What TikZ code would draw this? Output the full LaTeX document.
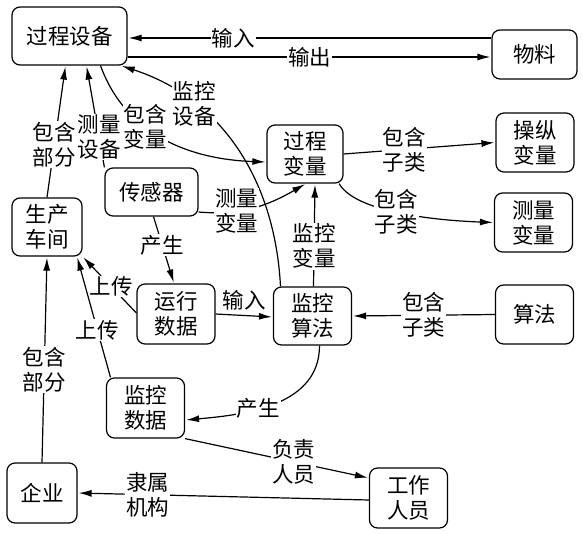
\documentclass[tikz,border=0pt]{standalone}
\usepackage{fontspec}
\newfontfamily\cjk{Noto Sans CJK SC}
\usetikzlibrary{arrows.meta}

\begin{document}
\begin{tikzpicture}[-{Latex[length=13pt,width=7pt]},shorten >=1pt,x=1pt,y=-1pt,
                    line width=1.2pt,font=\cjk\fontsize{21.5}{25}\selectfont,
                    main node/.style={draw,rounded corners=8pt,align=center,inner sep=0pt,
                                      minimum width=78pt,minimum height=59pt}]
  \useasboundingbox (0,0) rectangle (583,533);

  \node[main node,minimum width=115pt,minimum height=58pt] (equip) at (69.5,36) {过程设备};
  \node[main node,minimum width=85pt,minimum height=49pt] (mat) at (534.5,54.5) {物料};
  \node[main node,minimum width=76pt,minimum height=58pt] (pvar) at (305,154) {过程\\变量};
  \node[main node] (mvar) at (535,142.5) {操纵\\变量};
  \node[main node] (msvar) at (533.5,222.5) {测量\\变量};
  \node[main node,minimum width=93pt,minimum height=48pt] (sensor) at (151.5,192) {传感器};
  \node[main node,minimum width=70pt,minimum height=58pt] (shop) at (47,227) {生产\\车间};
  \node[main node,minimum height=60pt] (rundata) at (176,314) {运行\\数据};
  \node[main node,minimum height=58pt] (alg) at (312.5,316) {监控\\算法};
  \node[main node] (algo) at (534.5,314.5) {算法};
  \node[main node,minimum height=60pt] (mondata) at (145.5,408) {监控\\数据};
  \node[main node,minimum width=70pt,minimum height=60pt] (ent) at (42,493) {企业};
  \node[main node,minimum height=60pt] (staff) at (408.5,498) {工作\\人员};

  \path[every node/.style={fill=white,inner sep=1pt,align=center}]
    ([yshift=16.5pt]mat.west) edge node[pos=0.71] {输入} ([yshift=-2pt]equip.east)
    ([yshift=-21pt]equip.east) edge node {输出} ([yshift=-2.5pt]mat.west)
    ([xshift=-32pt]alg.north) edge[out=93,in=-18] node[pos=0.72] {监控\\设备} (equip.-30)
    (shop.north) edge node[pos=0.4] {包含\\部分} ([xshift=-4pt]equip.south)
    (sensor.north west) edge node[pos=0.3] {测量\\设备} ([xshift=17pt]equip.south)
    ([xshift=31pt]equip.south) edge[out=-70,in=178] node[pos=0.38] {包含\\变量} ([yshift=-8pt]pvar.west)
    ([yshift=-20pt]sensor.east) edge[out=-5,in=-150] node[pos=0.33] {测量\\变量} ([xshift=1pt]pvar.south)
    ([xshift=1pt]alg.north) edge node[pos=0.39] {监控\\变量} ([xshift=10pt]pvar.south)
    (pvar.east) edge node[pos=0.4] {包含\\子类} (mvar.west)
    (pvar.-41) edge[out=-60,in=178,looseness=0.6] node[pos=0.43] {包含\\子类} (msvar.west)
    ([xshift=2pt]sensor.south) edge node[pos=0.43] {产生} ([xshift=-2pt]rundata.north)
    ([yshift=1pt]rundata.west) edge node[pos=0.47] {上传} (shop.south east)
    ([xshift=-35pt]mondata.north) edge node[pos=0.39] {上传} ([xshift=30pt]shop.south)
    (ent.north) edge node[pos=0.45] {包含\\部分} (shop.south)
    (rundata.east) edge node[above=4pt,fill=none] {输入} ([yshift=-1pt]alg.west)
    (algo.west) edge node {包含\\子类} (alg.east)
    ([xshift=7pt]alg.south) edge[out=-90,in=5] node[pos=0.6] {产生} ([yshift=-12pt]mondata.east)
    (mondata.south east) edge node[pos=0.59] {负责\\人员} ([yshift=20pt]staff.west)
    ([yshift=-2pt]staff.west) edge node[pos=0.76] {隶属\\机构} (ent.east);
\end{tikzpicture}
\end{document}
